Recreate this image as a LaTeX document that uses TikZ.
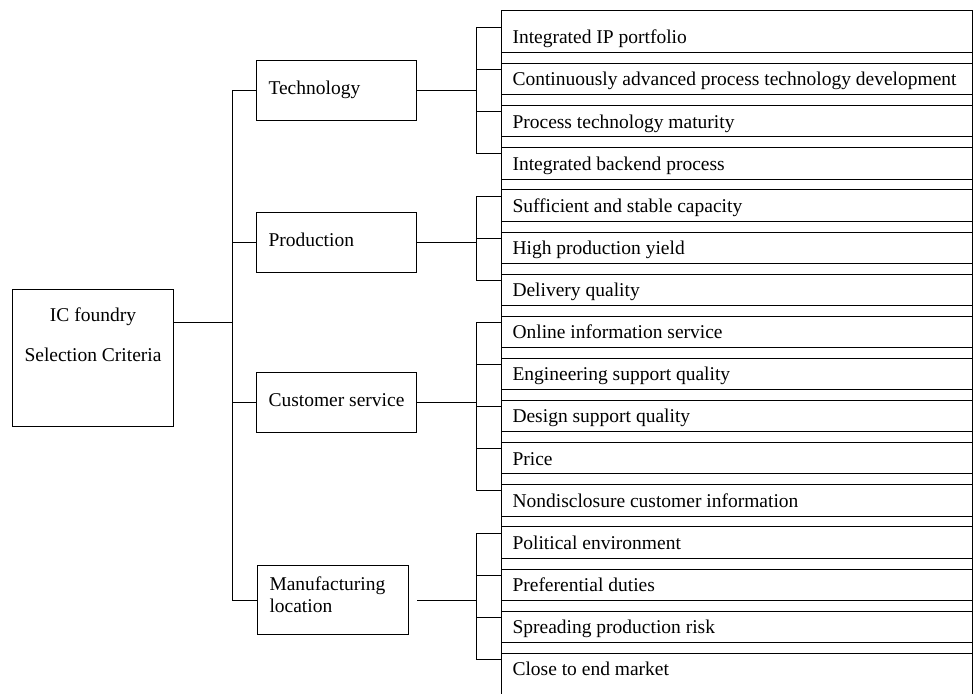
\documentclass[tikz,border=0pt]{standalone}
\usepackage{fontspec}
\setmainfont{Liberation Serif}
\usetikzlibrary{positioning}

\tikzset{
  crit/.style={draw, line width=1pt, anchor=north west, minimum width=160pt, minimum height=60pt, inner xsep=12pt, text height=12pt, text depth=4.5pt, font=\fontsize{19.5}{22}\selectfont},
  item/.style={draw, line width=1pt, anchor=north west, minimum width=471pt, minimum height=53pt, inner xsep=11pt, text height=17.6pt, text depth=4pt, font=\fontsize{19.5}{22}\selectfont},
  link/.style={line width=1pt}
}

\begin{document}
\begin{tikzpicture}[x=1pt,y=-1pt]
\useasboundingbox (0,0) rectangle (973,693);
\clip (0,0) rectangle (973,693);

\node [draw, line width=1pt, anchor=north west, minimum width=161pt, minimum height=137pt, align=center, font=\fontsize{19.5}{22}\selectfont] (root) at (12,289) {IC foundry\\[18pt]Selection Criteria\\[18pt]\strut};

\node [crit] (tech) at (256,60) {\makebox[136pt][l]{Technology}};
\node [crit] (prod) at (256,212) {\makebox[136pt][l]{Production}};
\node [crit] (cust) at (256,372) {\makebox[136pt][l]{Customer service}};
\node [crit, minimum width=151pt, minimum height=69pt, text width=127pt, align=left, text height=, text depth=32pt] (mfg) at (257,565) {Manufacturing\\location};

\foreach \t [count=\i] in {Integrated IP portfolio, Continuously advanced process technology development, Process technology maturity, Integrated backend process, Sufficient and stable capacity, High production yield, Delivery quality, Online information service, Engineering support quality, Design support quality, Price, Nondisclosure customer information, Political environment, Preferential duties, Spreading production risk, Close to end market}
{
  \node [item] (i\i) at (501,{10+42.13*(\i-1)}) {\makebox[449pt][l]{\t}};
  \coordinate (t\i) at ([yshift=9.5pt]i\i.west);
}

\coordinate (trunk) at (232,322);
\coordinate (brk) at (476,0);

\draw [link] (root.east |- trunk) -- (trunk);
\draw [link] (trunk |- tech.west) -- (trunk |- mfg.west);
\foreach \n in {tech,prod,cust,mfg}
  \draw [link] (trunk |- \n.west) -- (\n.west);

\draw [link] (tech.east) -- (tech.east -| brk);
\draw [link] (prod.east) -- (prod.east -| brk);
\draw [link] (cust.east) -- (cust.east -| brk);
\draw [link] ([xshift=8pt]mfg.east) -- (mfg.east -| brk);

\draw [link] (t1 -| brk) -- (t4 -| brk);
\draw [link] (t5 -| brk) -- (t7 -| brk);
\draw [link] (t8 -| brk) -- (t12 -| brk);
\draw [link] (t13 -| brk) -- (t16 -| brk);
\foreach \i in {1,...,16}
  \draw [link] (t\i -| brk) -- (t\i);
\end{tikzpicture}
\end{document}
